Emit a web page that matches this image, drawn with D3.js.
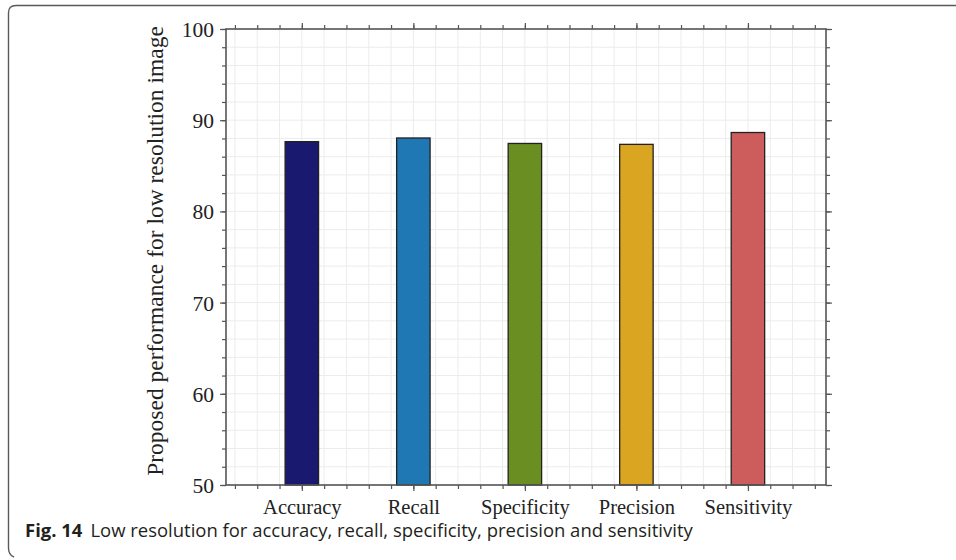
<!DOCTYPE html>
<html><head><meta charset="utf-8">
<script src="https://cdn.jsdelivr.net/npm/d3@7"></script>
<style>body{margin:0;background:#fff}svg{display:block}</style>
</head><body>
<svg id="c" width="956" height="560"></svg>
<script>
const categories = ["Accuracy","Recall","Specificity","Precision","Sensitivity"];
const values = [87.65, 88.05, 87.45, 87.35, 88.65];
const colors = ["#191970","#1f77b4","#6b8e23","#daa520","#cd5c5c"];
const yTicks = [50,60,70,80,90,100];
const yLabel = "Proposed performance for low resolution image";
const captionBold = "Fig. 14";
const captionText = "Low resolution for accuracy, recall, specificity, precision and sensitivity";

const svg = d3.select("#c");
const L=226,R=826,T=29,B=485;
const x = d3.scaleLinear().domain([0.32,5.7]).range([L,R]);
const y = d3.scaleLinear().domain([50,100]).range([B,T]);

// frame
svg.append("path").attr("d","M956,5.5 L16,5.5 Q8.5,5.5 8.5,13 L8.5,548 Q8.5,555 14,557")
  .attr("fill","none").attr("stroke","#5a5a5a").attr("stroke-width",1.4);

// grid
const xMinor = d3.range(2,29).map(i=>i*0.2);
const yMinor = d3.range(50,101,2);
const g = svg.append("g");
g.selectAll(".gx").data(xMinor).join("line")
  .attr("x1",d=>x(d)).attr("x2",d=>x(d)).attr("y1",T).attr("y2",B)
  .attr("stroke","#ececec").attr("stroke-width",1);
g.selectAll(".gy").data(yMinor).join("line")
  .attr("y1",d=>y(d)).attr("y2",d=>y(d)).attr("x1",L).attr("x2",R)
  .attr("stroke","#ececec").attr("stroke-width",1);

// bars
svg.selectAll(".bar").data(values).join("rect")
  .attr("x",(d,i)=>x(i+1-0.15)).attr("width",x(0.3)-x(0))
  .attr("y",d=>y(d)).attr("height",d=>y(50)-y(d))
  .attr("fill",(d,i)=>colors[i]).attr("stroke","#222").attr("stroke-width",1.3);

// axes
const ac="#555";
function ax(axisFn, tx, ty){
  const a = svg.append("g").attr("transform",`translate(${tx},${ty})`).call(axisFn);
  a.select(".domain").remove();
  a.selectAll("line").attr("stroke",ac).attr("stroke-width",1.2);
  return a;
}
const majX=[1,2,3,4,5];
ax(d3.axisBottom(x).tickValues(xMinor).tickSize(4).tickFormat(""),0,B);
ax(d3.axisTop(x).tickValues(xMinor).tickSize(4).tickFormat(""),0,T);
ax(d3.axisLeft(y).tickValues(yMinor).tickSize(4).tickFormat(""),L,0);
ax(d3.axisRight(y).tickValues(yMinor).tickSize(4).tickFormat(""),R,0);
const bx = ax(d3.axisBottom(x).tickValues(majX).tickSize(6).tickPadding(8).tickFormat((d)=>categories[d-1]),0,B);
ax(d3.axisTop(x).tickValues(majX).tickSize(6).tickFormat(""),0,T);
const ly = ax(d3.axisLeft(y).tickValues(yTicks).tickSize(6).tickPadding(6).tickFormat(d3.format("d")),L,0);
ax(d3.axisRight(y).tickValues(yTicks).tickSize(6).tickFormat(""),R,0);
bx.selectAll("text").attr("font-family","Liberation Serif, serif").attr("font-size",20.5).attr("fill","#222").attr("dy","0.75em");
ly.selectAll("text").attr("font-family","Liberation Serif, serif").attr("font-size",21.5).attr("fill","#222").attr("dy","0.35em");

svg.append("rect").attr("x",L).attr("y",T).attr("width",R-L).attr("height",B-T)
  .attr("fill","none").attr("stroke",ac).attr("stroke-width",1.6);

// y label
svg.append("text").attr("transform",`translate(163,${(T+B)/2-6}) rotate(-90)`)
  .attr("text-anchor","middle").attr("font-family","Liberation Serif, serif")
  .attr("font-size",23.5).attr("fill","#222").text(yLabel);

// caption
const cap = svg.append("text").attr("x",25).attr("y",537)
  .attr("font-family","Open Sans, Noto Sans, sans-serif").attr("font-size",18).attr("fill","#231f20");
cap.append("tspan").attr("font-weight","bold").text(captionBold);
cap.append("tspan").attr("dx",8).text(captionText);
const w = cap.node().getComputedTextLength();
cap.attr("font-size", 18*660/w);
</script>
</body></html>
